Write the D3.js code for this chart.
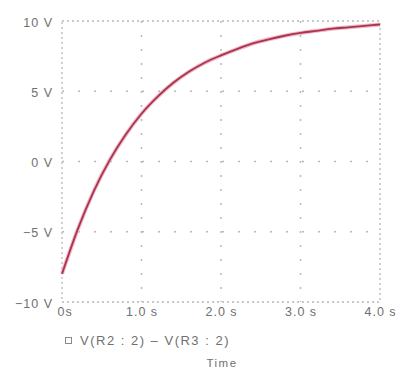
<!DOCTYPE html>
<html><head><meta charset="utf-8">
<script src="https://cdn.jsdelivr.net/npm/d3@7"></script>
<style>body{margin:0;background:#fff}svg{display:block}text{font-family:"Liberation Sans",Arial,sans-serif}</style>
</head><body><svg id="c" width="401" height="371"></svg>
<script>
const times = [0,0.2,0.4,0.6,0.8,1.0,1.2,1.4,1.6,1.8,2.0,2.2,2.4,2.6,2.8,3.0,3.2,3.4,3.6,3.8,4.0];
const volts = [-8.0,-4.8,-2.1,0.1,1.9,3.4,4.6,5.6,6.4,7.05,7.55,8.0,8.4,8.7,8.95,9.15,9.3,9.45,9.55,9.65,9.75];
const xTicks = [0,1,2,3,4];
const xTickLabels = ["0s","1.0 s","2.0 s","3.0 s","4.0 s"];
const yTicks = [10,5,0,-5,-10];
const yTickLabels = ["10 V","5 V","0 V","\u22125 V","\u221210 V"];
const seriesName = "V(R2 : 2) \u2013 V(R3 : 2)";
const xTitle = "Time";

const svg = d3.select("#c");
const L=62,R=380,T=21,B=302;
const x = d3.scaleLinear().domain([0,4]).range([L,R]);
const y = d3.scaleLinear().domain([-10,10]).range([B,T]);
const grid = "#b8b8b8";
const txt = "#707070";

const g = svg.append("g");
g.append("rect").attr("x",L).attr("y",T).attr("width",R-L).attr("height",B-T)
  .attr("fill","none").attr("stroke",grid).attr("stroke-width",1.3).attr("stroke-dasharray","2,3");
xTicks.slice(1,-1).forEach(t=>{
  g.append("line").attr("x1",x(t)).attr("x2",x(t)).attr("y1",T).attr("y2",B)
   .attr("stroke",grid).attr("stroke-width",1.5).attr("stroke-dasharray","2,12");
});
yTicks.slice(1,-1).forEach(v=>{
  g.append("line").attr("x1",L).attr("x2",R).attr("y1",y(v)).attr("y2",y(v))
   .attr("stroke",grid).attr("stroke-width",1.5).attr("stroke-dasharray","2,14");
});

const xa = svg.append("g").attr("transform",`translate(0,${B})`)
  .call(d3.axisBottom(x).tickValues(xTicks).tickFormat((d,i)=>xTickLabels[i]).tickSize(0).tickPadding(5));
xa.select(".domain").remove();
xa.selectAll("text").attr("fill",txt).attr("font-size",12.5).attr("letter-spacing",1);
xa.selectAll("text").filter((d,i)=>i===0).attr("text-anchor","start").attr("dx",-5);
const ya = svg.append("g").attr("transform",`translate(${L},0)`)
  .call(d3.axisLeft(y).tickValues(yTicks).tickFormat((d,i)=>yTickLabels[i]).tickSize(0).tickPadding(9));
ya.select(".domain").remove();
ya.selectAll("text").attr("fill",txt).attr("font-size",12.5).attr("letter-spacing",1).attr("dy","0.4em");

const pts = times.map((t,i)=>[t,volts[i]]);
const line = d3.line().x(d=>x(d[0])).y(d=>y(d[1])).curve(d3.curveMonotoneX);
svg.append("path").datum(pts).attr("d",line).attr("fill","none").attr("stroke","#f2b8c6").attr("stroke-width",4);
svg.append("path").datum(pts).attr("d",line).attr("fill","none").attr("stroke","#a8344e").attr("stroke-width",1.8);

svg.append("rect").attr("x",65.5).attr("y",337.5).attr("width",6).attr("height",6).attr("fill","none").attr("stroke","#8a8a8a");
svg.append("text").attr("x",80).attr("y",345).attr("font-size",13).attr("letter-spacing",1.5).attr("fill",txt).text(seriesName);
svg.append("text").attr("x",222).attr("y",367).attr("text-anchor","middle").attr("font-size",11.5).attr("letter-spacing",1.5).attr("fill",txt).text(xTitle);
</script></body></html>
